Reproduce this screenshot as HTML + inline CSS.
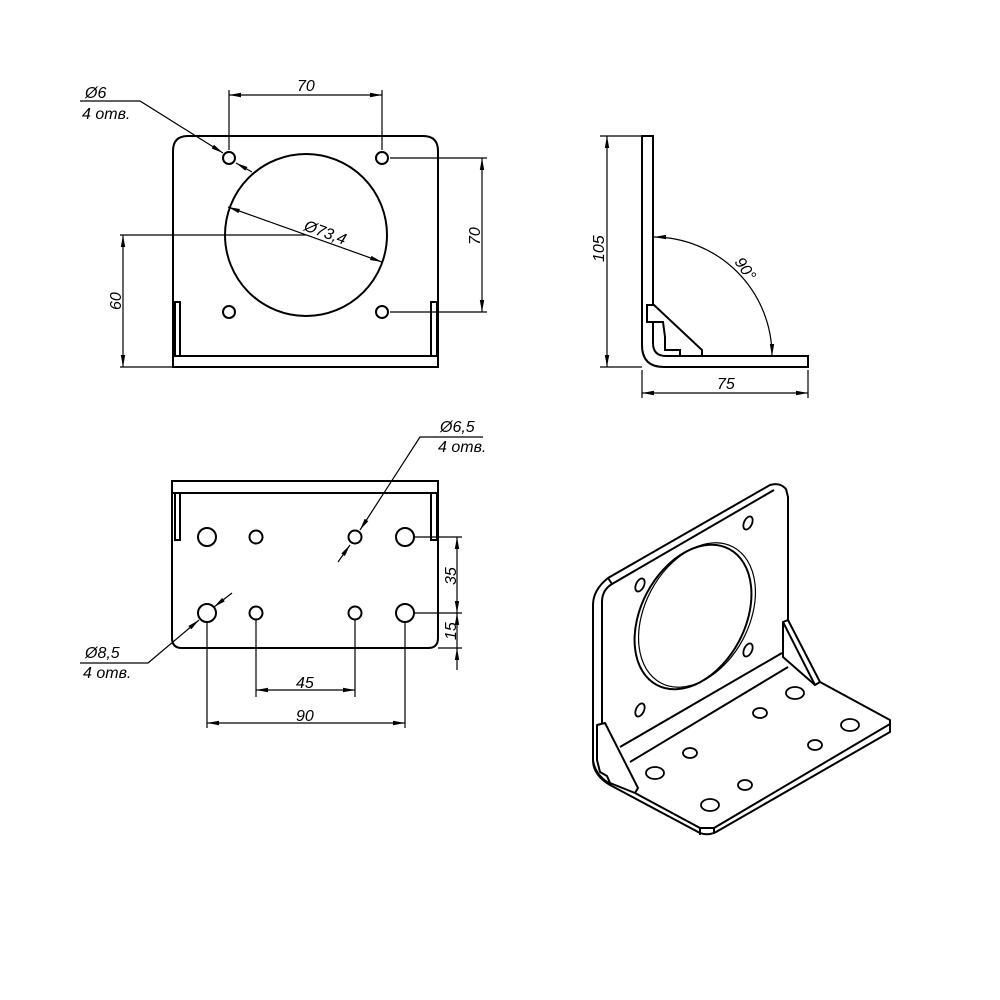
<!DOCTYPE html>
<html><head><style>body{margin:0;background:#fff}svg{display:block}text{font-family:"Liberation Sans",sans-serif;font-style:italic;font-size:16px;fill:#000}</style></head><body>
<svg width="1000" height="1000" viewBox="0 0 1000 1000" xmlns="http://www.w3.org/2000/svg">
<defs><marker id="a" markerWidth="12" markerHeight="6" refX="12" refY="3" orient="auto-start-reverse" markerUnits="userSpaceOnUse"><path d="M0,0.8 L12,3 L0,5.2z" fill="#000"/></marker></defs>
<g fill="none" stroke="#000" stroke-width="2">
<!-- FRONT VIEW -->
<path d="M173,367 V151 Q173,136 188,136 H423 Q438,136 438,151 V367 Z"/>
<path d="M173,356 H438"/>
<path d="M175,356 V302 H180 V356 M437,356 V302 H431 V356"/>
<circle cx="229" cy="158" r="6"/><circle cx="382" cy="158" r="6"/><circle cx="229" cy="312" r="6"/><circle cx="382" cy="312" r="6"/>
<circle cx="306" cy="235" r="81"/>
</g>
<g fill="none" stroke="#000" stroke-width="1.2">
<path d="M229,150 V90 M382,150 V90"/><path d="M229,95 H382" marker-start="url(#a)" marker-end="url(#a)"/>
<path d="M390,158 H487 M390,312 H487"/><path d="M482,158 V312" marker-start="url(#a)" marker-end="url(#a)"/>
<path d="M120,235 H306 M120,367 H173"/><path d="M123,235 V367" marker-start="url(#a)" marker-end="url(#a)"/>
<path d="M228,207 L382,262" marker-start="url(#a)" marker-end="url(#a)"/>
<path d="M80,101 H140 L223,153" marker-end="url(#a)"/>
<path d="M252,172 L236,163" marker-end="url(#a)"/>
</g>
<text x="85" y="98">Ø6</text><text x="82" y="119">4 отв.</text>
<text x="297" y="91">70</text>
<text transform="translate(480,245) rotate(-90)">70</text>
<text transform="translate(121,310) rotate(-90)">60</text>
<text transform="translate(303,230) rotate(20)">Ø73,4</text>

<!-- SIDE VIEW -->
<g fill="none" stroke="#000" stroke-width="2">
<path d="M642,136 H653 V343 Q653,356 666,356 H808 V367 H664 Q642,367 642,345 Z"/>
<path d="M647,305 H654 L702,350 V356 H680 V350 H665 V337 L663,322 H647 Z" fill="#fff"/>
</g>
<g fill="none" stroke="#000" stroke-width="1.2">
<path d="M600,136 H642 M600,367 H642"/><path d="M607,136 V367" marker-start="url(#a)" marker-end="url(#a)"/>
<path d="M642,370 V398 M808,370 V398"/><path d="M642,393 H808" marker-start="url(#a)" marker-end="url(#a)"/>
<path d="M654,237 A119,119 0 0 1 772,356" marker-start="url(#a)" marker-end="url(#a)"/>
</g>
<text transform="translate(604,262) rotate(-90)">105</text>
<text x="717" y="389">75</text>
<text transform="translate(734,262) rotate(55)">90°</text>

<!-- BOTTOM VIEW -->
<g fill="none" stroke="#000" stroke-width="2">
<path d="M172,481 H438 V638 Q438,648 428,648 H182 Q172,648 172,638 Z"/>
<path d="M172,493 H438"/>
<path d="M175,493 V540 H180 V493 M437,493 V540 H431 V493"/>
<circle cx="207" cy="537" r="9"/><circle cx="405" cy="537" r="9"/><circle cx="207" cy="613" r="9"/><circle cx="405" cy="613" r="9"/>
<circle cx="256" cy="537" r="6.5"/><circle cx="355" cy="537" r="6.5"/><circle cx="256" cy="613" r="6.5"/><circle cx="355" cy="613" r="6.5"/>
</g>
<g fill="none" stroke="#000" stroke-width="1.2">
<path d="M414,537 H462 M414,613 H462 M438,648 H462"/>
<path d="M457,537 V613" marker-start="url(#a)" marker-end="url(#a)"/>
<path d="M457,613 V648" marker-start="url(#a)"/><path d="M457,648 V670" marker-start="url(#a)"/>
<path d="M256,620 V697 M355,620 V697 M207,622 V728 M405,622 V728"/>
<path d="M256,690 H355" marker-start="url(#a)" marker-end="url(#a)"/>
<path d="M207,723 H405" marker-start="url(#a)" marker-end="url(#a)"/>
<path d="M483,437 H420 L360,530" marker-end="url(#a)"/>
<path d="M338,562 L350,545" marker-end="url(#a)"/>
<path d="M80,663 H148 L199,620" marker-end="url(#a)"/>
<path d="M232,593 L214,607" marker-end="url(#a)"/>
</g>
<text x="440" y="432">Ø6,5</text><text x="438" y="452">4 отв.</text>
<text x="85" y="658">Ø8,5</text><text x="83" y="678">4 отв.</text>
<text x="296" y="688">45</text><text x="296" y="721">90</text>
<text transform="translate(456,585) rotate(-90)">35</text>
<text transform="translate(456,640) rotate(-90)">15</text>

<!-- ISOMETRIC -->
<g fill="none" stroke="#000" stroke-width="2" stroke-linejoin="round">
<path d="M593,760 V605 Q593,590 608,578 L770,485 Q780,482 786,489 L788,497 V622"/>
<path d="M602,602 V723 M602,602 Q602,590 612,584 L774,490 M608,578 L612,584"/>
<path d="M593,760 Q593,775 610,785 L700,833 Q708,836 716,832 L890,732 V720 L820,682"/>
<path d="M593,760 Q595,776 612,785 M635,793 L700,828 L714,828 L890,724 M700,828 V835 M714,828 V834"/>
<path d="M620,747 L782,653 M630,762 L788,667"/>
<path d="M783,622 L788,620 L820,682 L815,685 Z" fill="#fff"/>
<path d="M783,622 V657 L815,685"/>
<path d="M597,725 L605,723 L638,788 L635,793 L610,783 L607,776 L600,772 L597,760 Z" fill="#fff"/>
<ellipse cx="693" cy="617" rx="52" ry="77" transform="rotate(28 693 617)"/>
<ellipse cx="697" cy="615" rx="52" ry="77" transform="rotate(28 697 615)" stroke-width="1.2"/>
<g stroke-width="1.8">
<ellipse cx="748" cy="523" rx="4" ry="7" transform="rotate(25 748 523)"/>
<ellipse cx="640" cy="585" rx="4" ry="7" transform="rotate(25 640 585)"/>
<ellipse cx="748" cy="650" rx="4" ry="7" transform="rotate(25 748 650)"/>
<ellipse cx="640" cy="710" rx="4" ry="7" transform="rotate(25 640 710)"/>
<ellipse cx="795" cy="693" rx="9" ry="6"/><ellipse cx="850" cy="725" rx="9" ry="6"/>
<ellipse cx="655" cy="773" rx="9" ry="6"/><ellipse cx="710" cy="805" rx="9" ry="6"/>
<ellipse cx="760" cy="713" rx="7" ry="5"/><ellipse cx="815" cy="745" rx="7" ry="5"/>
<ellipse cx="690" cy="753" rx="7" ry="5"/><ellipse cx="745" cy="785" rx="7" ry="5"/>
</g>
</g>
</svg>
</body></html>
